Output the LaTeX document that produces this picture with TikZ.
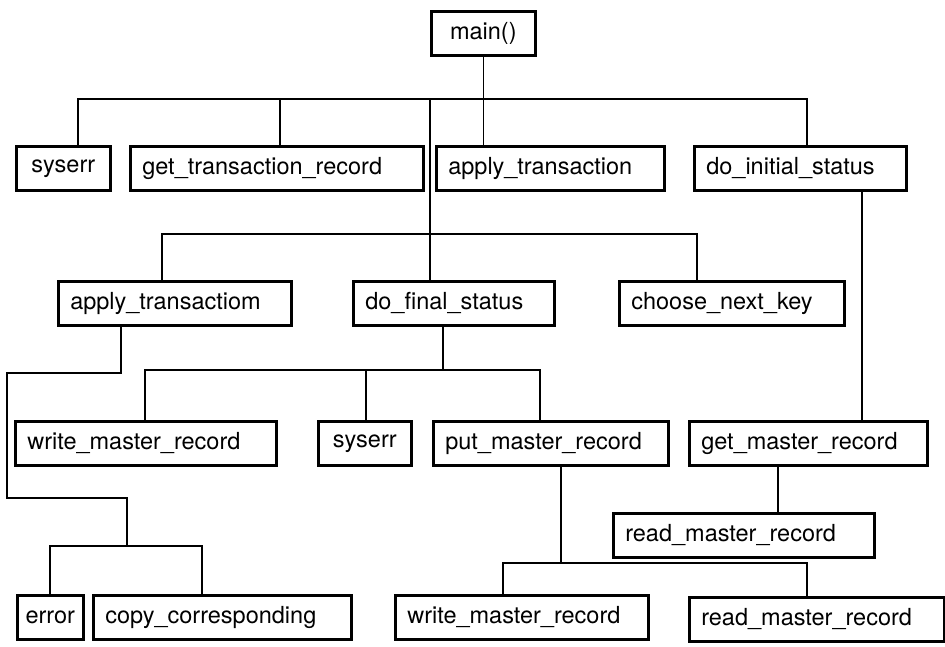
\documentclass[tikz,border=0pt]{standalone}
\usepackage{fontspec}
\setmainfont{TeX Gyre Heros}
\usepackage{tikz}
\tikzset{
    routine/.style={draw, line width=2.6pt, anchor=north west, inner xsep=12pt, inner ysep=0pt,
      minimum height=44pt, text width=#1, align=left, font=\fontsize{23.5}{28}\selectfont},
    link/.style={line width=1.3pt},
  }

\begin{document}
\begin{tikzpicture}[x=1pt, y=-1pt]
    \useasboundingbox (0,0) rectangle (945,647);

    %% top
    \node[routine=80, align=center] (main) at (430,10) {main()};

    %% first row
    \node[routine=70, align=center] (syserrA) at (15,145) {syserr};
    \node[routine=269] (gettrans) at (129,145) {get\_transaction\_record};
    \node[routine=204] (applytrans) at (435,145) {apply\_transaction};
    \node[routine=188] (doinit) at (693,145) {do\_initial\_status};

    %% second row
    \node[routine=209] (applytransm) at (57,280) {apply\_transactiom};
    \node[routine=177] (dofinal) at (352,280) {do\_final\_status};
    \node[routine=201] (choosekey) at (618,280) {choose\_next\_key};

    %% third row
    \node[routine=237] (writemasterA) at (14,420) {write\_master\_record};
    \node[routine=69, align=center] (syserrB) at (317,420) {syserr};
    \node[routine=211] (putmaster) at (432,420) {put\_master\_record};
    \node[routine=214] (getmaster) at (688,420) {get\_master\_record};
    \node[routine=237] (readmasterA) at (612,512) {read\_master\_record};

    %% bottom row
    \node[routine=54, inner xsep=6pt, align=center] (error) at (16,594) {error};
    \node[routine=234] (copycorr) at (92,594) {copy\_corresponding};
    \node[routine=229] (writemasterB) at (394,594) {write\_master\_record};
    \node[routine=231] (readmasterB) at (688,596) {read\_master\_record};

    %% bus under main()
    \coordinate (t1a) at (78,99);
    \coordinate (t1b) at (280,99);
    \coordinate (t1c) at (430,99);
    \coordinate (t1d) at (807,99);
    \draw[link] (main.south) -- (main.south |- applytrans.north);
    \draw[link] (syserrA.north -| t1a) -- (t1a) -- (t1d) -- (doinit.north -| t1d);
    \draw[link] (t1b) -- (gettrans.north -| t1b);
    \draw[link] (t1c) -- (dofinal.north -| t1c);

    %% second bus
    \coordinate (t2a) at (162,234);
    \coordinate (t2b) at (697,234);
    \draw[link] (applytransm.north -| t2a) -- (t2a) -- (t2b) -- (choosekey.north -| t2b);

    %% do_initial_status side
    \coordinate (g1) at (862,300);
    \coordinate (g2) at (778,490);
    \draw[link] (doinit.south -| g1) -- (getmaster.north -| g1);
    \draw[link] (getmaster.south -| g2) -- (readmasterA.north -| g2);

    %% under do_final_status
    \coordinate (f0) at (443,370);
    \coordinate (f1) at (145,370);
    \coordinate (f2) at (366,370);
    \coordinate (f3) at (540,370);
    \draw[link] (dofinal.south -| f0) -- (f0);
    \draw[link] (writemasterA.north -| f1) -- (f1) -- (f3) -- (putmaster.north -| f3);
    \draw[link] (f2) -- (syserrB.north -| f2);

    %% under put_master_record
    \coordinate (p0) at (561,563);
    \coordinate (p1) at (503,563);
    \coordinate (p2) at (807,563);
    \draw[link] (putmaster.south -| p0) -- (p0);
    \draw[link] (writemasterB.north -| p1) -- (p1) -- (p2) -- (readmasterB.north -| p2);

    %% under apply_transactiom
    \coordinate (a1) at (121,373);
    \coordinate (a2) at (7,498);
    \coordinate (a3) at (127,546);
    \coordinate (e1) at (50,546);
    \coordinate (e2) at (202,546);
    \draw[link] (applytransm.south -| a1) -- (a1) -| (a2) -| (a3);
    \draw[link] (error.north -| e1) -- (e1) -- (e2) -- (copycorr.north -| e2);
  \end{tikzpicture}
\end{document}
